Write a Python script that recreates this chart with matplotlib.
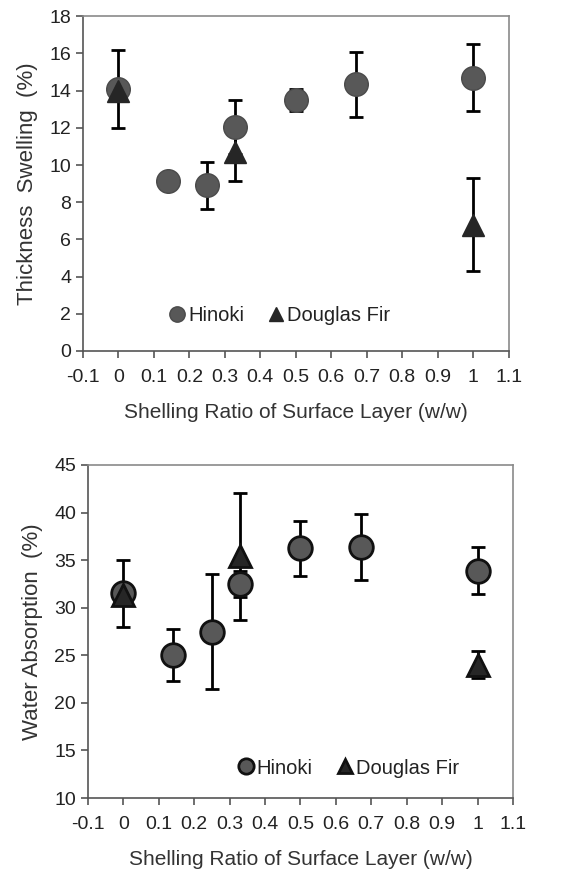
import matplotlib
matplotlib.use("Agg")
import matplotlib.pyplot as plt

plt.rcParams['font.family'] = ['Liberation Sans Narrow', 'Liberation Sans', 'DejaVu Sans']

# Thickness swelling (top panel)
ts_hinoki_x = [0, 0.14, 0.25, 0.33, 0.5, 0.67, 1.0]
ts_hinoki_y = [14.1, 9.15, 8.9, 12.05, 13.5, 14.35, 14.7]
ts_hinoki_err = [2.1, 0, 1.25, 1.45, 0.6, 1.75, 1.8]
ts_fir_x = [0, 0.33, 1.0]
ts_fir_y = [14.0, 10.7, 6.8]
ts_fir_err = [0, 1.55, 2.5]

# Water absorption (bottom panel)
wa_hinoki_x = [0, 0.14, 0.25, 0.33, 0.5, 0.67, 1.0]
wa_hinoki_y = [31.5, 25.05, 27.5, 32.5, 36.25, 36.4, 33.9]
wa_hinoki_err = [3.55, 2.7, 6.0, 1.4, 2.9, 3.45, 2.45]
wa_fir_x = [0, 0.33, 1.0]
wa_fir_y = [31.3, 35.4, 24.0]
wa_fir_err = [0, 6.7, 1.4]

xticks = [-0.1, 0, 0.1, 0.2, 0.3, 0.4, 0.5, 0.6, 0.7, 0.8, 0.9, 1, 1.1]
xticklabels = ['-0.1', '0', '0.1', '0.2', '0.3', '0.4', '0.5', '0.6', '0.7', '0.8', '0.9', '1', '1.1']

fig = plt.figure(figsize=(5.64, 8.81), dpi=100)
ax1 = fig.add_axes([0.147, 0.6016, 0.755, 0.380])
ax2 = fig.add_axes([0.156, 0.0942, 0.7535, 0.378])


def panel(ax, hx, hy, he, fx, fy, fe, ylim, yticks, ylabel, edge, leg_pos):
    ax.errorbar(hx, hy, yerr=he, fmt='none', ecolor='black', elinewidth=2,
                capsize=5, capthick=2, zorder=2)
    ax.errorbar(fx, fy, yerr=fe, fmt='none', ecolor='black', elinewidth=2,
                capsize=5, capthick=2, zorder=2)
    ax.plot(hx, hy, 'o', ms=17, mfc='#585858', mec=edge[0], mew=edge[1],
            ls='none', label='Hinoki', zorder=3)
    ax.plot(fx, fy, '^', ms=16, mfc='#262626', mec=edge[2], mew=edge[1],
            ls='none', label='Douglas Fir', zorder=4)
    ax.set_xlim(-0.1, 1.1)
    ax.set_ylim(*ylim)
    ax.set_xticks(xticks)
    ax.set_xticklabels(xticklabels)
    ax.set_yticks(yticks)
    for s in ax.spines.values():
        s.set_color('#8a8a8a')
        s.set_linewidth(1.2)
    ax.spines['left'].set_color('#555555')
    ax.spines['bottom'].set_color('#555555')
    ax.tick_params(direction='out', length=5, width=1.2, color='#555555',
                   labelsize=14, labelcolor='#222222', top=False, right=False)
    ax.tick_params(axis='x', pad=8)
    ax.set_xlabel('Shelling Ratio of Surface Layer (w/w)', fontsize=15,
                  color='#333333', labelpad=12)
    ax.set_ylabel(ylabel, fontsize=16, color='#333333', labelpad=8)
    ax.legend(loc='center', bbox_to_anchor=leg_pos, ncol=2, frameon=False,
              markerscale=0.65, handletextpad=0.05, columnspacing=1.1,
              handlelength=1.0, fontsize=14.5, labelcolor='#222222')


panel(ax1, ts_hinoki_x, ts_hinoki_y, ts_hinoki_err, ts_fir_x, ts_fir_y, ts_fir_err,
      (0, 18), range(0, 19, 2), 'Thickness  Swelling  (%)',
      ('#4a4a4a', 1.0, '#262626'), (0.46, 0.107))
panel(ax2, wa_hinoki_x, wa_hinoki_y, wa_hinoki_err, wa_fir_x, wa_fir_y, wa_fir_err,
      (10, 45), range(10, 46, 5), 'Water Absorption  (%)',
      ('#111111', 2.0, '#111111'), (0.61, 0.09))

fig.savefig('out.png', dpi=100)
